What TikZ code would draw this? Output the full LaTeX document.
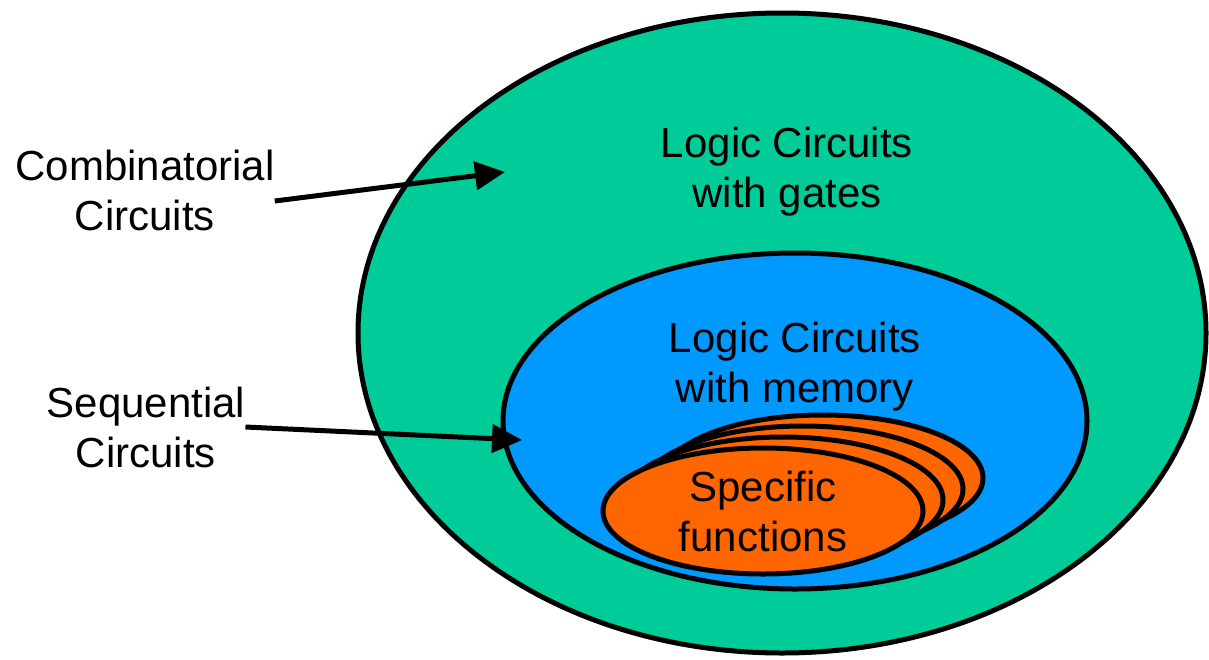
\documentclass[tikz,border=0pt]{standalone}
\usepackage{fontspec}
\setmainfont{Liberation Sans}
\usetikzlibrary{shapes.geometric,arrows.meta}

\definecolor{gatesgreen}{RGB}{0,204,153}
\definecolor{memoryblue}{RGB}{0,153,255}
\definecolor{funcorange}{RGB}{255,102,0}

\begin{document}
\begin{tikzpicture}[x=1pt,y=-1pt]
\tikzset{
  basic/.style   = {draw, ellipse, line width=5pt, inner sep=0pt},
  gates/.style   = {basic, fill=gatesgreen, minimum width=848pt,
                    minimum height=640pt},
  memory/.style  = {basic, fill=memoryblue, minimum width=584pt,
                    minimum height=336pt},
  func/.style    = {basic, fill=funcorange, minimum width=320pt,
                    minimum height=126pt},
  captxt/.style  = {align=center, inner sep=0pt,
                    font=\fontsize{42}{50}\selectfont},
  pointer/.style = {line width=5pt, -{Triangle[length=30pt,width=28pt]}}
}
\useasboundingbox (0,0) rectangle (1209,659);

% the nested sets
\node[gates] (outer) at (782,333) {};
\node[memory] (inner) at (795,421) {};
% a stack of orange ones, back to front
\foreach \i in {3,2,1,0}
  \node[func] (func\i) at ({763+20*\i},{511-11*\i}) {};

% texts
\node[captxt] (gtxt) at (787,172) {Logic Circuits\\with gates};
\node[captxt] (mtxt) at (795,367) {Logic Circuits\\with memory};
\node[captxt] (ftxt) at (763,511) {Specific\\functions};
\node[captxt] (comb) at (145,190) {Combinatorial\\Circuits};
\node[captxt] (seq)  at (146,427) {Sequential\\Circuits};

% pointers
\coordinate (combtip) at (505,172);
\coordinate (seqtip)  at (522,440);
\draw[pointer] ([yshift=-11pt]comb.east) -- (combtip);
\draw[pointer] (seq.east) -- (seqtip);
\end{tikzpicture}
\end{document}
